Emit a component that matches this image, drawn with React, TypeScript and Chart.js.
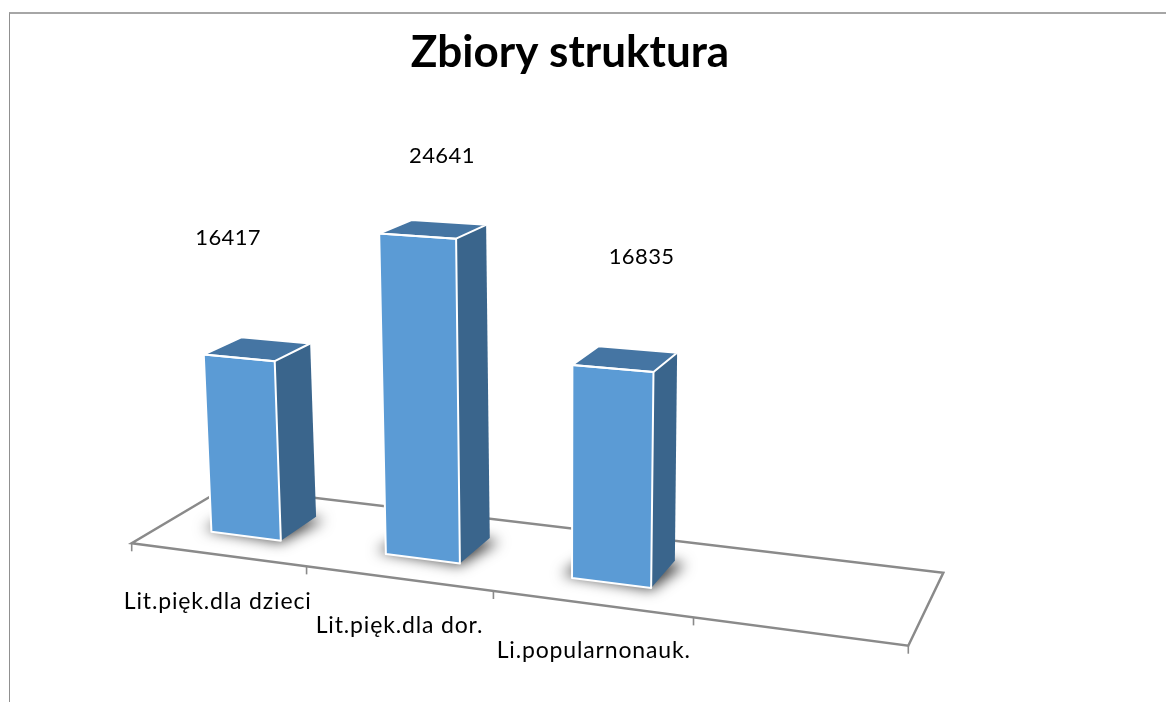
import React, { useEffect, useRef } from "react";
import { Chart, registerables } from "chart.js";

Chart.register(...registerables);

// Data as printed in the picture.
const titleText = "Zbiory struktura";
const categories = ["Lit.pięk.dla dzieci", "Lit.pięk.dla dor.", "Li.popularnonauk.", ""];
const seriesValues = [16417, 24641, 16835, null];

// Hidden value axis range (the reference is a truncated 3-D Excel axis).
const AXIS_MIN = 4285;
const AXIS_MAX = 29285;

// Screen offsets of the free-floating labels.
const valueLabelShift = [[-29, -111], [9, -73], [16.5, -102]];
const categoryLabelShift = [0, 1, 2];

// Camera: floor corners (front-left, front-right, back-right, back-left).
const floor = [[131.7, 543.3], [908.3, 645.7], [943.3, 572.7], [226, 487.25]];
const HEIGHT_SCALE = 363.3;
const HEIGHT_TILT = 0.1808;
const Z_FRONT = 0.3;
const Z_BACK = 0.71;

function makeCamera() {
  const [[x0, y0], [x1, y1], [x2, y2], [x3, y3]] = floor;
  const dx1 = x1 - x2, dx2 = x3 - x2, sx = x0 - x1 + x2 - x3;
  const dy1 = y1 - y2, dy2 = y3 - y2, sy = y0 - y1 + y2 - y3;
  const den = dx1 * dy2 - dx2 * dy1;
  const g = (sx * dy2 - dx2 * sy) / den;
  const h = (dx1 * sy - sx * dy1) / den;
  const a = x1 - x0 + g * x1, b = x3 - x0 + h * x3;
  const d = y1 - y0 + g * y1, e = y3 - y0 + h * y3;
  // t is the value's fraction of the axis; uc is the centre of the bar the point belongs to
  return (u: number, z: number, t: number, uc: number = u) => {
    const w = 1 + g * u + h * z;
    const lift = HEIGHT_SCALE * t * (1 + HEIGHT_TILT * uc);
    return [
      (a * u + b * z + x0 + lift * (-0.05 + 0.09 * u)) / w,
      (d * u + e * z + y0 - lift) / w,
    ];
  };
}
const project = makeCamera();

function poly(ctx: CanvasRenderingContext2D, pts: number[][], dx = 0) {
  ctx.beginPath();
  pts.forEach((p, i) => (i ? ctx.lineTo(p[0] + dx, p[1]) : ctx.moveTo(p[0] + dx, p[1])));
  ctx.closePath();
}

const box3d = {
  id: "box3d",
  beforeDatasetDraw(chart: any) {
    const ctx: CanvasRenderingContext2D = chart.ctx;
    const area = chart.chartArea;
    const ys = chart.scales.y;
    const toU = (px: number) => (px - area.left) / (area.right - area.left);
    const toT = (v: number) => (ys.bottom - ys.getPixelForValue(v)) / (ys.bottom - ys.top);

    ctx.save();
    // floor
    ctx.strokeStyle = "#8a8a8a";
    ctx.lineWidth = 2.5;
    ctx.lineJoin = "miter";
    poly(ctx, [project(0, 0, 0), project(1, 0, 0), project(1, 1, 0), project(0, 1, 0)]);
    ctx.stroke();
    // ticks at category boundaries
    ctx.lineWidth = 1.6;
    for (let i = 0; i <= categories.length; i++) {
      const p = project(i / categories.length, 0, 0);
      ctx.beginPath();
      ctx.moveTo(p[0], p[1]);
      ctx.lineTo(p[0], p[1] + 8);
      ctx.stroke();
    }

    const bars = chart.getDatasetMeta(0).data;
    seriesValues.forEach((val, i) => {
      if (val == null) return;
      const bar = bars[i];
      const u0 = toU(bar.x - bar.width / 2);
      const u1 = toU(bar.x + bar.width / 2);
      const uc = toU(bar.x);
      const t = toT(val);
      // soft shadow only: the casting shape sits off-canvas
      ctx.save();
      ctx.shadowColor = "rgba(0,0,0,0.75)";
      ctx.shadowBlur = 14;
      ctx.shadowOffsetX = 3000;
      ctx.fillStyle = "#000";
      poly(ctx, [
        project(u0 - 0.016, Z_FRONT + 0.03, 0),
        project(u1 + 0.002, Z_FRONT - 0.02, 0),
        project(u1 + 0.016, Z_BACK - 0.03, 0),
        project(u0, Z_BACK, 0),
      ], -3000);
      ctx.fill();
      ctx.restore();

      const fb0 = project(u0, Z_FRONT, 0), fb1 = project(u1, Z_FRONT, 0);
      const ft0 = project(u0, Z_FRONT, t, uc), ft1 = project(u1, Z_FRONT, t, uc);
      const bb1 = project(u1, Z_BACK, 0);
      const bt0 = project(u0, Z_BACK, t, uc), bt1 = project(u1, Z_BACK, t, uc);
      ctx.strokeStyle = "#ffffff";
      ctx.lineWidth = 2;
      ctx.lineJoin = "round";
      ctx.fillStyle = "#3a658c";
      poly(ctx, [fb1, bb1, bt1, ft1]);
      ctx.fill();
      ctx.fillStyle = "#4575a3";
      poly(ctx, [ft0, ft1, bt1, bt0]);
      ctx.fill();
      ctx.fillStyle = "#5b9bd5";
      poly(ctx, [fb0, fb1, ft1, ft0]);
      ctx.fill();
      ctx.stroke();
      poly(ctx, [ft0, ft1, bt1, bt0]);
      ctx.stroke();
    });
    ctx.restore();
    return false;
  },
  afterDatasetsDraw(chart: any) {
    const ctx: any = chart.ctx;
    const area = chart.chartArea;
    const ys = chart.scales.y;
    const toU = (px: number) => (px - area.left) / (area.right - area.left);
    const toT = (v: number) => (ys.bottom - ys.getPixelForValue(v)) / (ys.bottom - ys.top);
    const bars = chart.getDatasetMeta(0).data;
    ctx.save();
    ctx.fillStyle = "#000";
    ctx.textAlign = "center";
    ctx.textBaseline = "middle";
    seriesValues.forEach((val, i) => {
      if (val == null) return;
      const u = toU(bars[i].x);
      const top = project(u, 0.5, toT(val));
      ctx.font = "22px Lato";
      ctx.letterSpacing = "0.4px";
      ctx.fillText(String(val), top[0] + valueLabelShift[i][0], top[1] + valueLabelShift[i][1]);
      const base = project(u, 0, 0);
      ctx.font = "23px Lato";
      ctx.letterSpacing = "0.85px";
      ctx.fillText(categories[i], base[0] + categoryLabelShift[i], base[1] + 47);
    });
    ctx.restore();
  },
};

export default function App() {
  const ref = useRef<HTMLCanvasElement>(null);
  useEffect(() => {
    const chart = new Chart(ref.current!, {
      type: "bar",
      data: {
        labels: categories,
        datasets: [{ data: seriesValues, backgroundColor: "#5b9bd5", barPercentage: 0.4056, categoryPercentage: 1 }],
      },
      options: {
        responsive: false,
        animation: false,
        layout: { padding: { right: 26 } },
        scales: {
          x: { display: false },
          y: { display: false, min: AXIS_MIN, max: AXIS_MAX },
        },
        plugins: {
          legend: { display: false },
          tooltip: { enabled: false },
          title: {
            display: true,
            text: titleText,
            color: "#000",
            font: { family: "Lato", size: 44, weight: "bold" },
            padding: { top: 26, bottom: 10 },
          },
        },
      },
      plugins: [box3d],
    });
    return () => chart.destroy();
  }, []);
  return (
    <div style={{ position: "absolute", left: 0, top: 0, width: 1166, height: 702, overflow: "hidden", background: "#fff" }}>
      <canvas ref={ref} width={1166} height={702} style={{ position: "absolute", left: 0, top: 0 }} />
      <div
        style={{
          position: "absolute",
          left: 9,
          top: 12,
          width: 1157,
          height: 690,
          boxSizing: "border-box",
          borderTop: "2px solid #a6a6a6",
          borderLeft: "1px solid #909090",
          pointerEvents: "none",
        }}
      />
    </div>
  );
}
